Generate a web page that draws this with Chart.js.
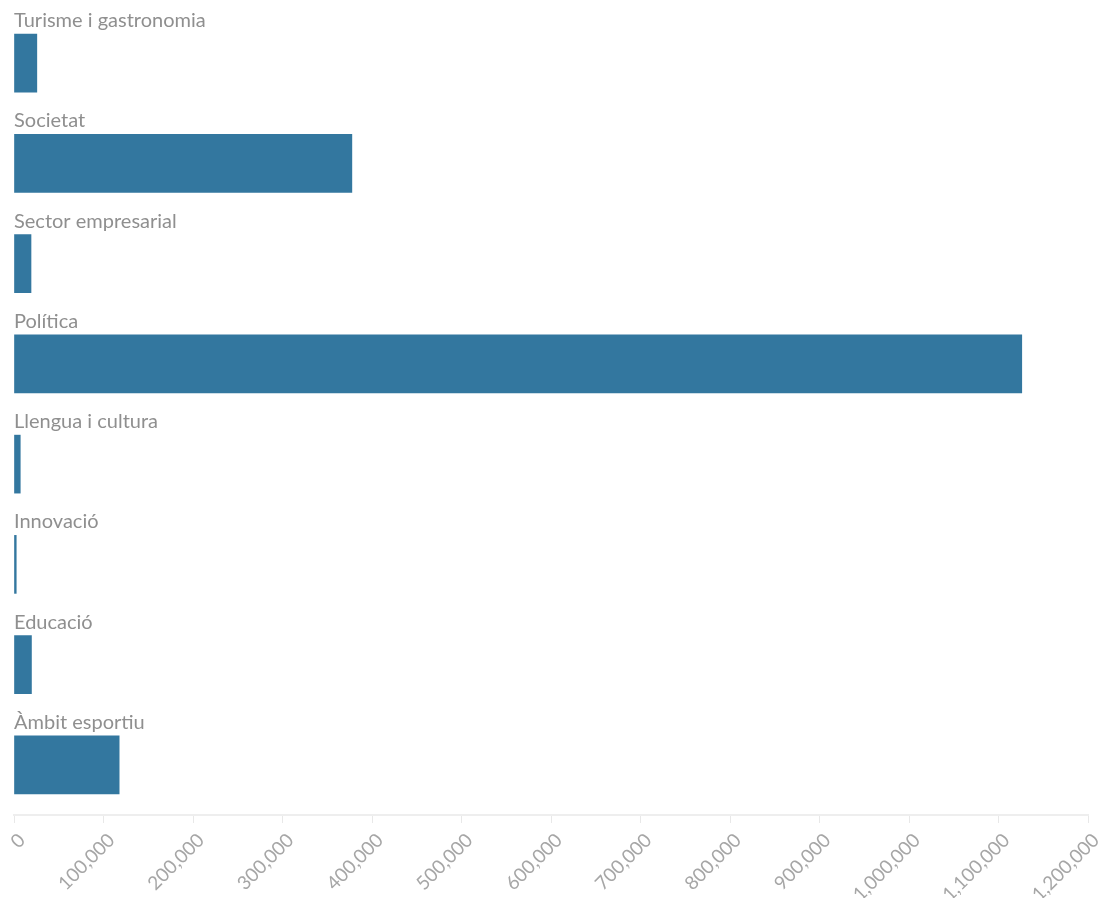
<!DOCTYPE html>
<html>
<head>
<meta charset="utf-8">
<script src="https://cdn.jsdelivr.net/npm/chart.js@4"></script>
<style>
  html, body { margin: 0; padding: 0; background: #fff; }
  #wrap { width: 1105px; height: 898px; position: relative; }
</style>
</head>
<body>
<div id="wrap"><canvas id="grafica"></canvas></div>
<script>
const categorias = ["Turisme i gastronomia", "Societat", "Sector empresarial", "Política",
    "Llengua i cultura", "Innovació", "Educació", "Àmbit esportiu"];
const valores = [25500, 377500, 19000, 1126000, 7000, 2500, 19500, 117500];
const colorBarra = "#33779f";

// etiqueta de cada categoria encima de su barra
const etiquetasArriba = {
    id: "etiquetasArriba",
    afterDatasetsDraw(chart) {
        const ctx = chart.ctx;
        const meta = chart.getDatasetMeta(0);
        ctx.save();
        ctx.font = "20px Lato";
        ctx.fillStyle = "#8f8f8f";
        ctx.textAlign = "left";
        ctx.textBaseline = "alphabetic";
        meta.data.forEach((bar, i) => {
            const top = bar.y - bar.height / 2;
            ctx.fillText(chart.data.labels[i], chart.chartArea.left, top - 7);
        });
        ctx.restore();
    }
};

new Chart("grafica", {
    type: "bar",
    data: {
        labels: categorias,
        datasets: [{
            data: valores,
            backgroundColor: colorBarra,
            barThickness: 58
        }]
    },
    options: {
        indexAxis: "y",
        responsive: true,
        maintainAspectRatio: false,
        animation: false,
        layout: { padding: { top: 13, left: 14, right: 17, bottom: 0 } },
        plugins: {
            legend: { display: false },
            tooltip: { enabled: false }
        },
        scales: {
            y: { display: false },
            x: {
                min: 0,
                max: 1200000,
                afterFit: escala => {
                    escala.height = 83;
                    escala.paddingLeft = 0;
                    escala.paddingRight = 0;
                },
                grid: {
                    drawOnChartArea: false,
                    drawTicks: true,
                    tickLength: 8,
                    color: "#e8e8e8"
                },
                border: { color: "#eeeeee", width: 2 },
                ticks: {
                    stepSize: 100000,
                    minRotation: 45,
                    maxRotation: 45,
                    padding: 6,
                    labelOffset: 8,
                    color: "#a6a6a6",
                    font: { family: "Lato", size: 19 },
                    callback: v => v.toLocaleString("en-US")
                }
            }
        }
    },
    plugins: [etiquetasArriba]
});
</script>
</body>
</html>
